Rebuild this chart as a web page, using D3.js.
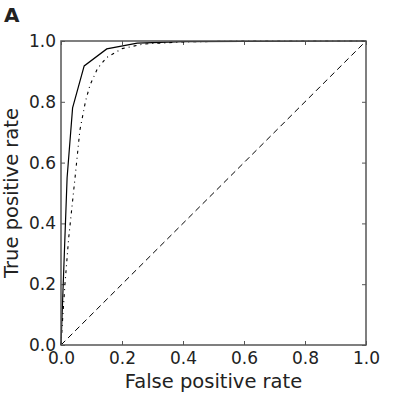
<!DOCTYPE html>
<html>
<head>
<meta charset="utf-8">
<script src="https://cdn.jsdelivr.net/npm/d3@7"></script>
<style>
  body { margin: 0; background: #fff; }
  text { font-family: "DejaVu Sans", sans-serif; fill: #222; }
</style>
</head>
<body>
<div id="chart"></div>
<script>
// ROC curves
const solidFpr = [0, 0.02, 0.038, 0.076, 0.15, 0.25, 0.4, 1];
const solidTpr = [0, 0.55, 0.78, 0.918, 0.974, 0.993, 0.998, 1];
const dashDotFpr = [0, 0.005, 0.013, 0.025, 0.046, 0.062, 0.08, 0.095, 0.12, 0.15, 0.2, 0.27, 0.4, 0.6, 1];
const dashDotTpr = [0, 0.08, 0.2, 0.35, 0.55, 0.707, 0.8, 0.855, 0.91, 0.946, 0.975, 0.99, 0.997, 1, 1];
const chanceFpr = [0, 1];
const chanceTpr = [0, 1];
const tickValues = [0, 0.2, 0.4, 0.6, 0.8, 1.0];

const width = 407, height = 407;
const margin = { top: 41, right: 41, bottom: 62, left: 61 };
const innerW = width - margin.left - margin.right;
const innerH = height - margin.top - margin.bottom;

const svg = d3.select('#chart').append('svg')
  .attr('width', width)
  .attr('height', height);

const scaleX = d3.scaleLinear().domain([0, 1]).range([margin.left, margin.left + innerW]);
const scaleY = d3.scaleLinear().domain([0, 1]).range([margin.top + innerH, margin.top]);

const zip = (xs, ys) => xs.map((x, i) => [x, ys[i]]);
const line = d3.line().x(d => scaleX(d[0])).y(d => scaleY(d[1]));

const frameColor = '#555';

// axes with inward ticks on all four sides
const axisBottom = d3.axisBottom(scaleX).tickValues(tickValues).tickSize(-4).tickPadding(7).tickFormat(d3.format('.1f'));
const axisLeft = d3.axisLeft(scaleY).tickValues(tickValues).tickSize(-4).tickPadding(5).tickFormat(d3.format('.1f'));
const axisTop = d3.axisTop(scaleX).tickValues(tickValues).tickSize(-4).tickFormat('');
const axisRight = d3.axisRight(scaleY).tickValues(tickValues).tickSize(-4).tickFormat('');

const styleAxis = g => {
  g.select('.domain').remove();
  g.selectAll('.tick line').attr('stroke', frameColor).attr('stroke-width', 1);
  g.selectAll('.tick text').style('font-size', '17px').style('font-family', 'DejaVu Sans').attr('fill', '#222');
};

svg.append('g').attr('transform', `translate(0,${margin.top + innerH})`).call(axisBottom).call(styleAxis);
svg.append('g').attr('transform', `translate(${margin.left},0)`).call(axisLeft).call(styleAxis);
svg.append('g').attr('transform', `translate(0,${margin.top})`).call(axisTop).call(styleAxis);
svg.append('g').attr('transform', `translate(${margin.left + innerW},0)`).call(axisRight).call(styleAxis);

// curves
svg.append('path')
  .attr('d', line(zip(chanceFpr, chanceTpr)))
  .attr('fill', 'none').attr('stroke', '#000').attr('stroke-width', 1)
  .attr('stroke-dasharray', '6,4');

svg.append('path')
  .attr('d', line(zip(dashDotFpr, dashDotTpr)))
  .attr('fill', 'none').attr('stroke', '#000').attr('stroke-width', 1.1)
  .attr('stroke-dasharray', '3,4,1,4');

svg.append('path')
  .attr('d', line(zip(solidFpr, solidTpr)))
  .attr('fill', 'none').attr('stroke', '#000').attr('stroke-width', 1.2);

// frame
svg.append('rect')
  .attr('x', margin.left).attr('y', margin.top)
  .attr('width', innerW).attr('height', innerH)
  .attr('fill', 'none').attr('stroke', frameColor).attr('stroke-width', 1.5);

// labels
svg.append('text')
  .attr('x', margin.left + innerW / 2).attr('y', 388)
  .attr('text-anchor', 'middle').style('font-size', '19.5px')
  .text('False positive rate');

svg.append('text')
  .attr('transform', `translate(18,${margin.top + innerH / 2}) rotate(-90)`)
  .attr('text-anchor', 'middle').style('font-size', '19.5px')
  .text('True positive rate');

svg.append('text')
  .attr('x', 4).attr('y', 22)
  .style('font-size', '20px').style('font-weight', 'bold')
  .text('A');
</script>
</body>
</html>
